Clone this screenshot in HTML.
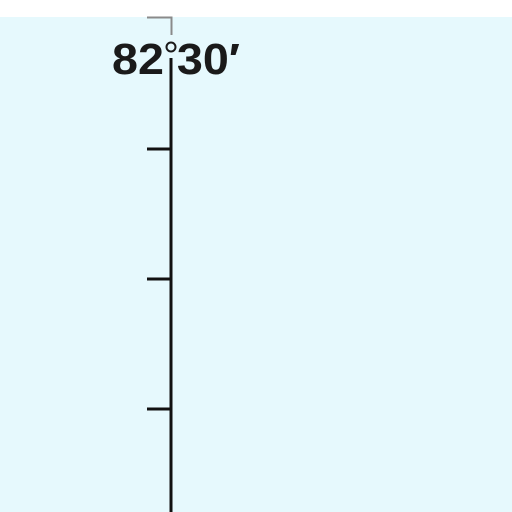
<!DOCTYPE html>
<html><head><meta charset="utf-8"><style>
html,body{margin:0;padding:0;width:512px;height:512px;overflow:hidden;background:#fff}
</style></head><body>
<svg width="512" height="512" viewBox="0 0 512 512">
<rect x="0" y="0" width="512" height="512" fill="#ffffff"/>
<rect x="0" y="17" width="512" height="495" fill="#e6f9fd"/>
<path d="M147 17.5 H171.5 V35" fill="none" stroke="#8a8a8a" stroke-width="2"/>
<text x="176" y="74" text-anchor="middle" font-family="Liberation Sans, sans-serif" font-weight="bold" font-size="44" fill="#1a1a1a" textLength="128" lengthAdjust="spacingAndGlyphs">82 30′</text>
<circle cx="171" cy="47" r="4.5" fill="none" stroke="#1a1a1a" stroke-width="2"/>
<line x1="171" y1="58" x2="171" y2="512" stroke="#111" stroke-width="3"/>
<g id="ticks"></g>
</svg>
<script>
const tickLat = [1, 2, 3];
const g = document.getElementById('ticks');
tickLat.forEach(function (t) {
  const y = 19 + t * 130;
  const l = document.createElementNS('http://www.w3.org/2000/svg', 'line');
  l.setAttribute('x1', 147); l.setAttribute('x2', 171);
  l.setAttribute('y1', y); l.setAttribute('y2', y);
  l.setAttribute('stroke', '#111'); l.setAttribute('stroke-width', 3);
  
  
  g.appendChild(l);
});
</script>
</body></html>
